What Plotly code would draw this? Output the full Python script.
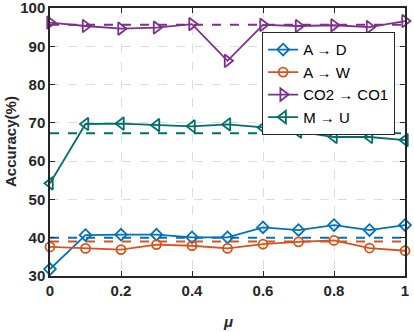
import plotly.graph_objects as go

mu = [0, 0.1, 0.2, 0.3, 0.4, 0.5, 0.6, 0.7, 0.8, 0.9, 1.0]
a_d = [31.8, 40.7, 40.8, 40.8, 40.1, 40.1, 42.7, 42.0, 43.3, 42.0, 43.3]
a_w = [37.6, 37.2, 36.9, 38.2, 37.9, 37.2, 38.3, 38.9, 39.3, 37.3, 36.6]
co2_co1 = [96.2, 95.3, 94.6, 94.9, 95.8, 86.2, 95.6, 95.3, 95.5, 95.0, 96.6]
m_u = [54.2, 69.7, 69.8, 69.4, 69.1, 69.6, 68.8, 67.7, 66.3, 66.3, 65.5]
mean_a_d = 40.0
mean_a_w = 39.0
mean_co2_co1 = 95.6
mean_m_u = 67.3

x_ticks = [0, 0.2, 0.4, 0.6, 0.8, 1.0]
x_labels = ["0", "0.2", "0.4", "0.6", "0.8", "1"]
y_ticks = [30, 40, 50, 60, 70, 80, 90, 100]

names = ["A → D", "A → W", "CO2 → CO1", "M → U"]
series = [a_d, a_w, co2_co1, m_u]
means = [mean_a_d, mean_a_w, mean_co2_co1, mean_m_u]
colors = ["#0072BD", "#D95319", "#7E2F8E", "#006F6B"]
symbols = ["diamond-open", "circle-open", "triangle-right-open", "triangle-left-open"]
sizes = [9, 9, 11, 11]

FONT = "Liberation Sans, Arial, sans-serif"

fig = go.Figure()
for ys, mn, c in zip(series, means, colors):
    fig.add_trace(go.Scatter(
        x=[mu[0], mu[-1]], y=[mn, mn], mode="lines",
        line=dict(color=c, width=2, dash="dash"), showlegend=False, hoverinfo="skip"))
for nm, ys, c, s, sz in zip(names, series, colors, symbols, sizes):
    fig.add_trace(go.Scatter(
        x=mu, y=ys, mode="lines+markers", name=nm,
        line=dict(color=c, width=1.8),
        marker=dict(symbol=s, size=sz, color=c, line=dict(color=c, width=1.8)),
        cliponaxis=False))

tick_font = dict(family=FONT, size=15, color="#262626")
common = dict(
    tickfont=tick_font, showline=True, linecolor="#262626", linewidth=1.5, mirror="ticks",
    ticks="inside", ticklen=5, tickcolor="#262626",
    showgrid=True, gridcolor="#dcdcdc", griddash="dash", gridwidth=1,
    zeroline=False, automargin=False, ticklabeloverflow="allow",
)
fig.update_layout(
    width=414, height=332,
    margin=dict(l=50, r=9, t=8, b=56),
    paper_bgcolor="white", plot_bgcolor="white",
    font=dict(family=FONT, color="#262626"),
    legend=dict(
        x=0.597, y=0.91, xanchor="left", yanchor="top",
        bgcolor="white", bordercolor="#262626", borderwidth=1.2,
        font=dict(family=FONT, size=15, color="#000000"),
        tracegroupgap=0,
    ),
    xaxis=dict(
        range=[0, 1], tickvals=x_ticks,
        ticktext=["<b>%s</b>" % t for t in x_labels],
        **common,
    ),
    yaxis=dict(
        range=[30, 100], tickvals=y_ticks,
        ticktext=["<b>%d</b>" % v for v in y_ticks],
        **common,
    ),
    annotations=[
        dict(text="<b>Accuracy(%)</b>", xref="paper", yref="paper",
             x=-40 / 355, y=0.5, xanchor="center", yanchor="middle",
             textangle=-90, showarrow=False,
             font=dict(family=FONT, size=15, color="#262626")),
        dict(text="<b><i>μ</i></b>", xref="paper", yref="paper",
             x=0.5, y=-45 / 268, xanchor="center", yanchor="middle",
             showarrow=False,
             font=dict(family=FONT, size=15, color="#262626")),
    ],
)
fig.write_html(
    "out.html",
    config={"displayModeBar": False},
    post_script="document.body.style.margin='0px';document.body.style.padding='0px';",
)
